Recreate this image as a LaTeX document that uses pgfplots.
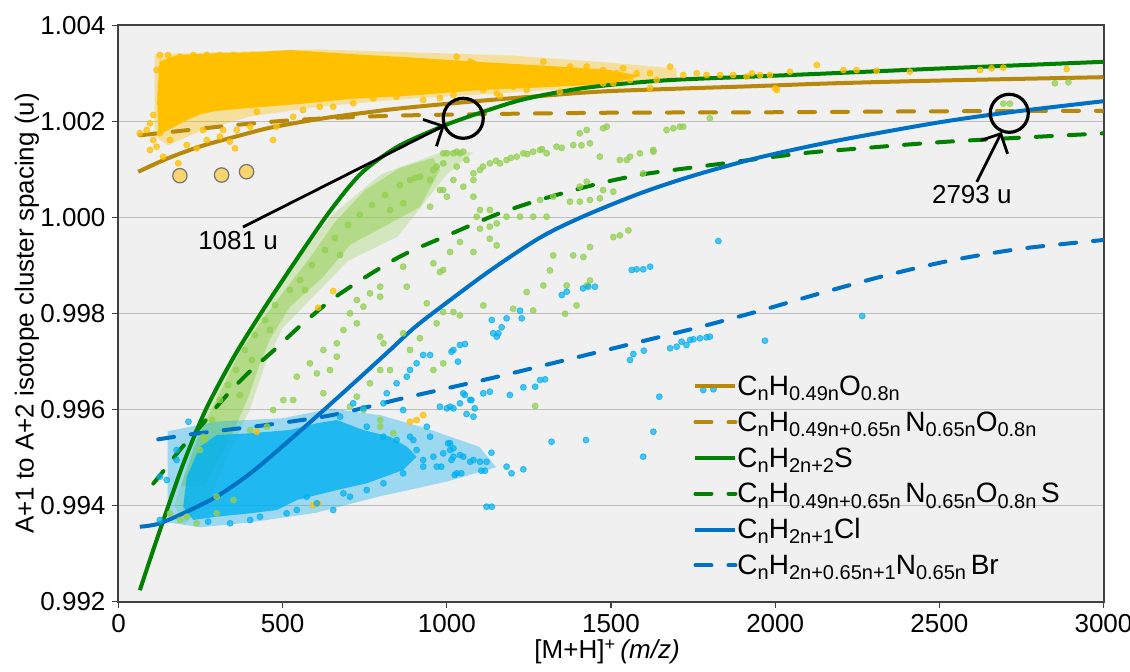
\documentclass[border=0pt]{standalone}
\usepackage{fontspec}
\setmainfont{Liberation Sans}
\usepackage{pgfplots}
\pgfplotsset{compat=1.18}
\usetikzlibrary{arrows.meta}
\definecolor{brownC}{RGB}{183,136,9}
\definecolor{greenC}{RGB}{0,130,0}
\definecolor{blueC}{RGB}{0,114,198}
\definecolor{orangeS}{RGB}{255,192,0}
\definecolor{greenS}{RGB}{146,208,80}
\definecolor{blueS}{RGB}{0,176,240}
\definecolor{bgc}{RGB}{240,240,240}
\definecolor{bigdot}{RGB}{250,212,110}
\newcommand{\sbs}[1]{\raisebox{-2.6pt}{\fontsize{10}{10}\selectfont #1}}
\begin{document}
\begin{tikzpicture}
\begin{axis}[
  scale only axis, width=492.5pt, height=288.2pt,
  at={(0,0)}, anchor=south west,
  xmin=0, xmax=3000, ymin=0.992, ymax=1.004,
  xtick={0,500,...,3000},
  ytick={0.992,0.994,0.996,0.998,1.000,1.002,1.004},
  axis background/.style={fill=bgc},
  axis line style={black!75, line width=1pt},
  ymajorgrids, grid style={black!25, line width=0.6pt},
  tick align=outside, major tick length=3pt,
  tick style={black!75, line width=0.6pt},
  xtick pos=bottom, ytick pos=left,
  /pgf/number format/assume math mode=true,
  /pgf/number format/1000 sep={},
  yticklabel style={/pgf/number format/fixed, /pgf/number format/fixed zerofill, /pgf/number format/precision=3},
  ticklabel style={font=\fontsize{13}{15}\selectfont},
  xlabel={[M+H]\textsuperscript{+}\,\textit{(m/z)}},
  ylabel={A+1 to A+2 isotope cluster spacing (u)},
  label style={font=\fontsize{13}{15}\selectfont},
  xlabel style={at={(axis description cs:0.496,-0.087)}, anchor=center},
  ylabel style={at={(axis description cs:-0.093,0.5)}, anchor=center},
  legend style={draw=none, fill=none, inner sep=0pt, at={(axis cs:1750,0.996803)}, anchor=north west,
    font=\fontsize{14}{17}\selectfont,
    nodes={inner sep=0pt, text height=12pt, text depth=5.9pt},
    /tikz/every even column/.append style={column sep=1pt}},
  legend cell align=left,
  legend image code/.code={\draw[#1] (0pt,1.5pt) -- (20pt,1.5pt);},
  odot/.style={forget plot, only marks, mark=*, mark size=1.5pt, color=orangeS, opacity=0.75},
  gdot/.style={forget plot, only marks, mark=*, mark size=1.5pt, color=greenS, opacity=0.75},
  bdot/.style={forget plot, only marks, mark=*, mark size=1.5pt, color=blueS, opacity=0.7},
]
% ---------- orange cluster ----------
\addplot[forget plot, fill=orangeS, fill opacity=0.35, draw=none] coordinates {
(110,1.00340)(600,1.00350)(1200,1.00337)(1500,1.00322)(1700,1.00310)(1700,1.00292)(1500,1.00275)(1200,1.00260)(900,1.00248)(600,1.00230)(400,1.00210)(250,1.00180)(150,1.00150)(110,1.00170)} -- cycle;
\addplot[forget plot, fill=orangeS, draw=none] coordinates {
(125,1.00325)(180,1.00338)(300,1.00342)(431,1.003444)(522,1.003486)(705,1.003402)(918,1.003319)(1101,1.003236)(1314,1.003153)(1497,1.003069)(1588,1.002944)
(1497,1.002778)(1314,1.002715)(1101,1.002653)(918,1.002549)(705,1.002466)(553,1.002362)(400,1.00228)(300,1.00222)(250,1.00215)(200,1.00200)(160,1.00185)(122,1.00172)(118,1.00250)} -- cycle;
\addplot[odot] coordinates {
(126,1.003382)(151,1.003382)(116,1.003069)(136,1.002514)(126,1.002376)(141,1.002237)(106,1.001612)(126,1.001752)(116,1.001473)(96,1.001404)
(136,1.001265)(182,1.001127)(157,1.001612)(208,1.001508)(238,1.001439)(269,1.001612)(258,1.001820)(309,1.001681)(339,1.001577)(355,1.001439)
(319,1.001820)(360,1.001820)(401,1.001889)(421,1.002201)(471,1.001612)(481,1.001889)(532,1.002097)(562,1.002237)(613,1.002305)(654,1.002305)
(715,1.002376)(776,1.002480)(847,1.002514)(928,1.002445)(1020,1.002549)(65,1.001752)(86,1.001820)(96,1.001959)(106,1.002133)(187,1.003347)
(228,1.003382)(269,1.003382)(309,1.003382)(350,1.003382)(411,1.003382)(471,1.003347)(532,1.003382)(1030,1.003347)(1071,1.003243)(147,1.003208)
(167,1.003278)(979,1.002487)(1162,1.002528)(1344,1.002611)(1619,1.002695)
(1294,1.003243)(1375,1.003139)(1426,1.003139)(1476,1.003069)(1517,1.003000)(1537,1.003104)(1578,1.003000)(1619,1.003000)(1680,1.003139)(1720,1.002965)
(1761,1.003000)(1791,1.002965)(1832,1.002965)(1872,1.002965)(1913,1.002930)(1954,1.002965)(2045,1.003034)(2127,1.003173)(2005,1.002653)(1507,1.002792)
(1558,1.002861)(1639,1.002861)(1476,1.002792)(1426,1.002826)(1202,1.002722)(1243,1.002653)(1111,1.002653)(1152,1.002584)(1081,1.003208)
(2208,1.003069)(2248,1.003069)(2309,1.003055)(2000,1.002688)(2624,1.003069)(2659,1.003104)(2695,1.003117)(2888,1.003090)(2410,1.003034)(1929,1.003000)(1984,1.002965)
(888,0.995747)(908,0.995782)(928,0.995886)(593,0.994013)(608,0.994048)(421,0.995539)(654,0.998468)(608,0.998121)};
\addplot[forget plot, only marks, mark=*, mark size=3.6pt, mark options={draw=black!55, line width=0.6pt, fill=bigdot}] coordinates {
(187,1.000869)(314,1.000883)(390,1.000952)};
% ---------- green cluster ----------
\addplot[forget plot, fill=greenS, fill opacity=0.3, draw=none] coordinates {
(170,0.99400)(250,0.99570)(360,0.99730)(500,0.99870)(650,1.00005)(800,1.00090)(1000,1.00140)(1080,1.00135)
(1000,1.00090)(850,0.99960)(700,0.99910)(600,0.99840)(500,0.99770)(450,0.99700)(400,0.99600)(330,0.99500)(280,0.99420)(200,0.99360)} -- cycle;
\addplot[forget plot, fill=greenS, fill opacity=0.5, draw=none] coordinates {
(190,0.99440)(230,0.99520)(264,0.99575)(315,0.99645)(370,0.99720)(437,0.99786)(507,0.99849)(583,0.99916)(659,0.99990)(751,1.00057)(857,1.00103)(958,1.00124)
(979,1.00099)(918,1.00022)(806,0.99980)(705,0.99943)(623,0.99876)(522,0.99814)(460,0.99745)(425,0.99685)(395,0.99625)(350,0.99555)(300,0.99490)(260,0.99440)} -- cycle;
\addplot[gdot] coordinates {
(766,0.998420)(797,0.998558)(746,0.998142)(705,0.998003)(726,0.997795)(685,0.997656)(665,0.997379)(624,0.997240)(665,0.997101)(583,0.996962)
(797,0.997518)(807,0.997379)(878,0.998558)(939,0.998212)(959,0.999045)(989,0.998906)(969,0.997795)(867,0.998975)(797,0.998350)(726,0.998281)
(959,1.000988)(989,1.001126)(979,1.000571)(949,1.000224)(867,1.000294)
(502,0.996199)(543,0.996684)(604,0.996754)(644,0.996823)(624,0.996339)(532,0.996199)(471,0.995991)(401,0.995575)(452,0.995644)(797,0.996823)
(766,0.996546)(726,0.996269)(705,0.996061)(746,0.995991)(797,0.995783)(827,0.996823)(959,0.996823)(989,0.996962)(797,0.995644)(837,0.995505)
(248,0.995158)(258,0.995435)(208,0.993770)(238,0.993631)(187,0.993701)(157,0.993840)(299,0.994187)(350,0.994117)(299,0.993840)
(1131,1.001126)(1182,1.001196)(1233,1.001335)(1284,1.001404)(1334,1.001473)(1385,1.001508)(1436,1.001543)(1213,1.001265)(1263,1.001369)(1304,1.001335)
(1162,1.001126)(1101,1.000988)(1081,1.000918)(888,1.000779)(918,1.000848)(969,1.001057)(989,1.001335)(1030,1.001369)(1050,1.001369)
(1405,1.001751)(1426,1.001820)(1476,1.001856)(1690,1.001856)(1710,1.001890)(1487,1.001890)(1669,1.001820)(1720,1.001890)(1801,1.002064)
(1466,1.001265)(1548,1.001196)(1588,1.001335)(1629,1.001404)(1598,1.000918)
(1000,1.001335)(1020,1.001335)(1040,1.001335)(1060,1.001196)(1030,1.001057)(1020,1.000779)(1081,1.000779)(1050,1.000640)(989,1.000571)(1000,1.000432)
(1081,1.000432)(1101,1.000155)(1131,1.000155)(1091,1.000016)(1152,0.999877)(1131,0.999807)(1182,1.000016)(1223,1.000016)(1263,1.000016)(1304,1.000016)
(1284,1.000363)(1324,1.000432)(1375,1.000328)(1405,1.000328)(1436,1.000363)(1466,1.000398)(1405,1.000641)(1426,1.000745)(1476,1.000571)(1507,1.000537)
(1527,1.001196)(1558,1.001265)(1629,1.001369)(1507,0.999592)(1527,0.999626)(1553,0.999730)(1436,0.999384)(1324,0.999209)(1385,0.999209)(1416,0.999176)
(1314,0.998896)(1436,0.998688)(1426,0.998584)(1243,0.998447)(1365,0.998584)(1294,0.998584)(1395,0.998168)(1111,0.998168)(1202,0.998099)(1263,0.998064)
(1360,0.997995)(989,0.998031)(1020,0.998031)(979,0.998863)(1010,0.999280)(1081,0.999280)(1040,0.999488)(1131,0.999557)(1101,0.999765)(1152,0.999418)
(2852,1.002793)(2893,1.002814)(2695,1.002368)(2715,1.002368)(1269,0.996074)(1040,0.997960)(918,0.997485)(888,0.997241)(867,0.997588)
(263,0.995366)(285,0.995783)(309,0.996199)(334,0.996511)(358,0.996823)(385,0.997240)(416,0.997552)(446,0.997864)(477,0.998177)(522,0.998489)
(553,0.998697)(589,0.999009)(629,0.999322)(659,0.999572)(699,0.999842)(735,1.000051)(772,1.000259)(812,1.000467)(857,1.000675)(903,1.000821)
(370,0.996303)(406,0.997032)(461,0.997656)(568,0.998489)(675,0.999218)(827,1.000155)(949,1.000779)
(1110,1.00106)(1150,1.00118)(1195,1.00124)(1245,1.00132)(1290,1.00142)(1350,1.00145)(1410,1.00150)};
% ---------- blue cluster ----------
\addplot[forget plot, fill=blueS, fill opacity=0.35, draw=none] coordinates {
(150,0.99555)(300,0.99575)(500,0.99582)(650,0.99602)(800,0.99588)(950,0.99558)(1100,0.99522)(1150,0.99480)(1000,0.99450)(800,0.99420)(600,0.99385)(400,0.99365)(250,0.99355)(150,0.99365)} -- cycle;
\addplot[forget plot, fill=blueS, fill opacity=0.8, draw=none] coordinates {
(299,0.995470)(401,0.995506)(522,0.995575)(604,0.995714)(665,0.995783)(745,0.995575)(827,0.995435)(878,0.995227)(908,0.995019)
(867,0.994742)(756,0.994465)(665,0.994325)(543,0.994117)(482,0.993909)(401,0.993840)(299,0.993770)(228,0.993701)(197,0.993978)(208,0.994602)(248,0.995227)} -- cycle;
\addplot[bdot] coordinates {
(928,0.997136)(949,0.997136)(908,0.996963)(888,0.996824)(878,0.996684)(847,0.996547)(817,0.996339)(807,0.996131)(746,0.996027)(715,0.996131)
(675,0.995852)(756,0.995643)(807,0.995435)(847,0.995366)(888,0.995435)(908,0.995158)(928,0.994950)(959,0.995019)(989,0.995089)(1010,0.995158)
(1020,0.995019)(1050,0.995019)(1081,0.994950)(939,0.995643)(949,0.995435)(979,0.996060)(1010,0.996060)(1040,0.996130)(1071,0.996199)(1081,0.995852)
(1050,0.996339)(1010,0.995298)(1030,0.994673)(969,0.994811)(928,0.994811)(867,0.994673)(807,0.994465)(756,0.994325)(705,0.994186)(685,0.994256)
(654,0.993909)(573,0.994186)(604,0.994048)(543,0.993909)(431,0.993770)(512,0.993840)(401,0.993701)(340,0.993632)(273,0.993666)(126,0.993701)
(177,0.995158)(177,0.994950)(126,0.994602)(147,0.994534)(213,0.995747)(867,0.995991)(898,0.995366)
(1020,0.997240)(1040,0.997344)(1055,0.997365)(1014,0.997205)(1034,0.996997)(1141,0.997588)(1152,0.997517)(1111,0.996339)(1131,0.996372)(1192,0.996303)
(1233,0.996464)(1269,0.996476)(1284,0.996615)(1299,0.996630)(1000,0.996026)(1020,0.996026)(1055,0.996303)(1075,0.996199)(1060,0.995907)(1085,0.996026)
(1004,0.995297)(1020,0.995193)(1040,0.995054)(1014,0.994950)(1071,0.994914)(1101,0.994914)(1136,0.995102)(1121,0.994914)(983,0.994811)(1024,0.994638)
(1044,0.994673)(1105,0.994727)(1116,0.994727)(1182,0.994811)(1197,0.994673)(1233,0.994756)(1319,0.995331)(1424,0.995366)(1598,0.995019)(1629,0.995539)
(1121,0.993978)(1137,0.993978)(1558,0.997032)(1568,0.997157)(1600,0.997226)(1680,0.997276)(1700,0.997309)(1715,0.997413)(1730,0.997344)(1751,0.997463)
(1791,0.997504)(1801,0.997517)(1647,0.996268)(1781,0.996407)(1812,0.996422)(1969,0.997434)(1771,0.997484)(1741,0.997448)
(1827,0.999509)(1563,0.998906)(1578,0.998920)(1598,0.998920)(1619,0.998974)(1415,0.998524)(1431,0.998558)(1451,0.998558)(1350,0.998385)(1365,0.998454)
(1137,0.997865)(1167,0.997713)(1182,0.997900)(1223,0.998058)(1228,0.997900)(1157,0.997588)(2265,0.997948)};
% ---------- curves ----------
\addplot[brownC, line width=2pt, smooth] coordinates {
(60,1.00095)(150,1.00123)(250,1.00148)(350,1.00167)(450,1.00185)(550,1.00198)(650,1.00209)(750,1.00218)(857,1.00227)(1071,1.00241)
(1250,1.00251)(1467,1.00262)(1700,1.00268)(1923,1.00273)(2167,1.00279)(2500,1.00285)(3000,1.00292)};
\addlegendentry{C\sbs{n}H\sbs{0.49n}O\sbs{0.8n}}
\addplot[brownC, line width=2pt, line cap=round, dash pattern=on 8pt off 8.5pt, smooth] coordinates {
(65,1.00171)(200,1.00181)(350,1.00192)(500,1.00201)(650,1.00207)(850,1.00212)(1100,1.00215)(1500,1.00218)(2000,1.00219)(2500,1.00221)(3000,1.00222)};
\addlegendentry{C\sbs{n}H\sbs{0.49n+0.65n}\,N\sbs{0.65n}O\sbs{0.8n}}
\addplot[greenC, line width=2pt, smooth] coordinates {
(65,0.99224)(106,0.99308)(152,0.99400)(200,0.99492)(266,0.99600)(350,0.99708)(438,0.99805)(530,0.99900)(628,0.99998)(700,1.00062)
(756,1.00102)(857,1.00150)(1009,1.00196)(1071,1.00211)(1223,1.00244)(1375,1.00265)(1500,1.00276)(1680,1.00286)(1923,1.00293)(2167,1.00300)(2500,1.00310)(3000,1.00324)};
\addlegendentry{C\sbs{n}H\sbs{2n+2}S}
\addplot[greenC, line width=2pt, line cap=round, dash pattern=on 8pt off 8.5pt, smooth] coordinates {
(106,0.99446)(150,0.99483)(187,0.99516)(250,0.99565)(299,0.99606)(350,0.99645)(401,0.99680)(471,0.99722)(553,0.99774)(644,0.99826)
(725,0.99864)(827,0.99907)(888,0.99929)(969,0.99953)(1020,0.99968)(1162,1.00009)(1300,1.00040)(1466,1.00071)(1600,1.00090)(1771,1.00106)
(2076,1.00133)(2228,1.00142)(2532,1.00158)(3000,1.00175)};
\addlegendentry{C\sbs{n}H\sbs{0.49n+0.65n}\,N\sbs{0.65n}O\sbs{0.8n}\,S}
\addplot[blueC, line width=2pt, smooth] coordinates {
(65,0.99356)(120,0.99362)(197,0.99384)(299,0.99419)(401,0.99467)(502,0.99525)(604,0.99586)(705,0.99648)(827,0.99724)(900,0.99770)
(979,0.99812)(1131,0.99889)(1284,0.99958)(1415,1.00002)(1588,1.00050)(1741,1.00085)(1923,1.00120)(2076,1.00144)(2228,1.00165)(2500,1.00198)(2715,1.00219)(3000,1.00242)};
\addlegendentry{C\sbs{n}H\sbs{2n+1}Cl}
\addplot[blueC, line width=2pt, line cap=round, dash pattern=on 8pt off 8.5pt, smooth] coordinates {
(121,0.99538)(248,0.99551)(451,0.99568)(654,0.99589)(857,0.99622)(979,0.99641)(1152,0.99668)(1355,0.99702)(1558,0.99736)(1771,0.99772)
(1950,0.99805)(2127,0.99840)(2330,0.99878)(2532,0.99910)(2750,0.99935)(3000,0.99953)};
\addlegendentry{C\sbs{n}H\sbs{2n+0.65n+1}N\sbs{0.65n}\,Br}
% ---------- annotations ----------
\draw[black, line width=1.6pt] (axis cs:1050,1.002064) circle[radius=10pt];
\draw[black, line width=1.6pt] (axis cs:2713,1.002168) circle[radius=9.5pt];
\draw[black, line width=1.4pt, -{Straight Barb[length=7.5pt,width=15pt]}] (axis cs:379,0.99980) -- (axis cs:994,1.00192);
\draw[black, line width=1.4pt, -{Straight Barb[length=7.5pt,width=15pt]}] (axis cs:2614,1.00074) -- (axis cs:2690,1.00178);
\node[font=\fontsize{13}{15}\selectfont] at (axis cs:364,0.999509) {1081 u};
\node[font=\fontsize{13}{15}\selectfont] at (axis cs:2599,1.000467) {2793 u};
\end{axis}
\pgfresetboundingbox
\useasboundingbox (-59.25pt,-34.65pt) rectangle (505.75pt,300.85pt);
\end{tikzpicture}
\end{document}
